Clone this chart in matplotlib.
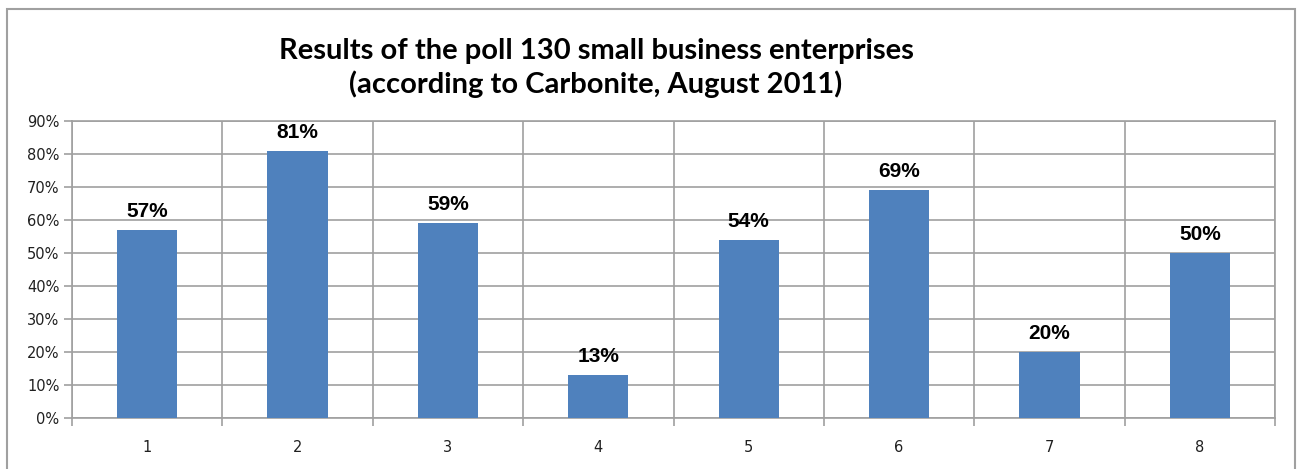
import matplotlib.pyplot as plt
from matplotlib.patches import Rectangle
import numpy as np

# Poll results
categorias = ["1", "2", "3", "4", "5", "6", "7", "8"]
valores = [57, 81, 59, 13, 54, 69, 20, 50]
etiquetas = ["57%", "81%", "59%", "13%", "54%", "69%", "20%", "50%"]
marcas_y = [0, 10, 20, 30, 40, 50, 60, 70, 80, 90]

titulo = "Results of the poll 130 small business enterprises\n(according to Carbonite, August 2011)"

color_barra = "#4F81BD"
gris = "#A0A0A0"

fig = plt.figure(figsize=(13, 4.69), dpi=100)

# marco exterior del grafico
fig.patches.append(Rectangle((7 / 1300, -0.05), 1288 / 1300, 1 - 9 / 469 + 0.05,
                             transform=fig.transFigure, fill=False,
                             edgecolor=gris, linewidth=1.5))

W, H = 1300, 469
ax = fig.add_axes([72 / W, 1 - 418 / H, (1275 - 72) / W, (418 - 121) / H])

x = np.arange(len(categorias))
ax.bar(x, valores, width=0.4, color=color_barra, zorder=3)

for xi, v, t in zip(x, valores, etiquetas):
    ax.text(xi, v + 3.9, t, ha="center", va="baseline", fontsize=15,
            fontweight="bold", family="Liberation Sans", zorder=4)

ax.set_xlim(-0.5, len(categorias) - 0.5)
ax.set_ylim(0, 90)
ax.set_yticks(marcas_y)
ax.set_yticklabels([f"{m}%" for m in marcas_y], family="DejaVu Sans",
                   fontsize=10.5, color="#202020")

# rejilla: horizontales cada 10%, verticales entre categorias
ax.set_xticks(x)
ax.set_xticklabels(categorias, family="DejaVu Sans", fontsize=10.5, color="#202020")
ax.tick_params(axis="x", length=0, pad=16)
ax.set_xticks(np.arange(-0.5, len(categorias)), minor=True)
ax.tick_params(axis="x", which="minor", length=6, color=gris, width=1.2)
ax.tick_params(axis="y", length=6, color=gris, width=1.2, pad=3)
ax.grid(True, axis="y", color=gris, linewidth=1.2, zorder=0)
ax.grid(True, axis="x", which="minor", color=gris, linewidth=1.2, zorder=0)
for lado in ax.spines.values():
    lado.set_color(gris)
    lado.set_linewidth(1.2)

fig.text(596 / W, 1 - 68 / H, titulo, ha="center", va="center", fontsize=21,
         fontweight="bold", family="Lato", linespacing=1.25)

fig.savefig("out.png", dpi=100)
